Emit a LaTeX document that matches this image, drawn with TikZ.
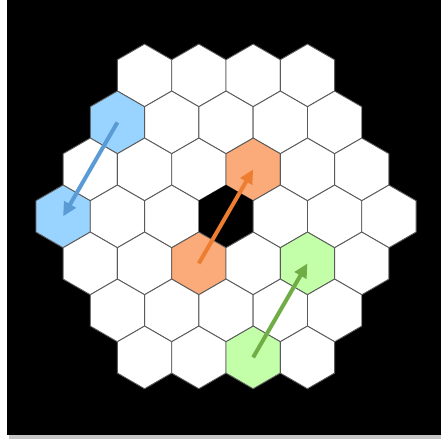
\documentclass[tikz,border=0pt]{standalone}
\usetikzlibrary{shapes.geometric,arrows.meta}
\definecolor{hexline}{HTML}{5A5A5A}
\definecolor{bluehex}{HTML}{99D3FF}
\definecolor{orangehex}{HTML}{FBAA7A}
\definecolor{greenhex}{HTML}{C3FFA8}
\definecolor{bluearr}{HTML}{5B9BD5}
\definecolor{orangearr}{HTML}{ED7D31}
\definecolor{greenarr}{HTML}{70AD47}
\begin{document}
\begin{tikzpicture}[x=1pt,y=-1pt,
  hexcell/.style={regular polygon, regular polygon sides=6, shape border rotate=30,
    minimum size=62.7pt, inner sep=0pt, outer sep=0pt, draw=hexline, line width=0.9pt, fill=white},
  c-2-0/.style={fill=bluehex},
  c0-0/.style={fill=bluehex},
  c-1-3/.style={fill=orangehex},
  c1-2/.style={fill=orangehex},
  c1-4/.style={fill=greenhex},
  c3-2/.style={fill=greenhex},
  c0-3/.style={fill=black, draw=none},
  movearrow/.style={line width=4pt, -{Triangle[length=14pt,width=13pt]}},
]
\useasboundingbox (0,0) rectangle (441,442);
\fill[gray!45] (9,4) rectangle (441,438.5);
\fill[black] (7,0) rectangle (441,435);
\foreach \r in {-3,...,3}{
  \pgfmathtruncatemacro{\n}{6-abs(\r)}
  \foreach \j in {0,...,\n}{
    \pgfmathsetmacro{\xx}{226+54.3*(\j-\n/2)}
    \pgfmathsetmacro{\yy}{216.4+47*\r}
    \node[hexcell, c\r-\j/.try] (h\r-\j) at (\xx,\yy) {};
  }
}
\draw[movearrow, bluearr] (h-2-0.center) -- (h0-0.center);
\draw[movearrow, orangearr] (h1-2.center) -- (h-1-3.center);
\draw[movearrow, greenarr] (h3-2.center) -- (h1-4.center);
\end{tikzpicture}
\end{document}
